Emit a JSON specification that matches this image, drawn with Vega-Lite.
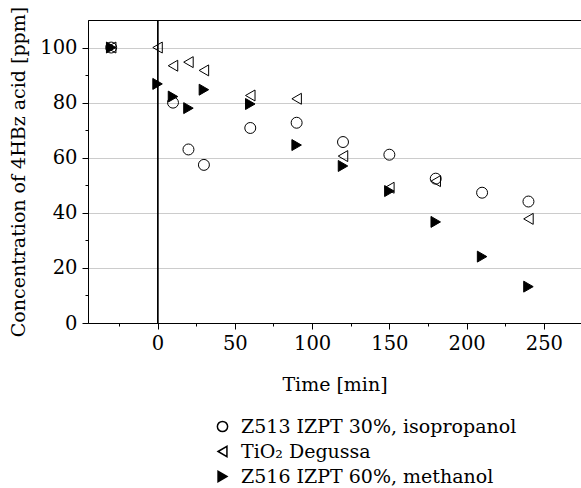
{
  "$schema": "https://vega.github.io/schema/vega-lite/v6.json",
  "width": 493,
  "height": 303,
  "autosize": "none",
  "padding": {"left": 88, "top": 20, "right": 0, "bottom": 165},
  "background": "white",
  "config": {
    "view": {"stroke": "black", "strokeWidth": 1},
    "font": "DejaVu Serif",
    "axis": {
      "labelFont": "DejaVu Serif",
      "labelFontSize": 19.5,
      "labelColor": "black",
      "titleFont": "DejaVu Serif",
      "titleFontSize": 19,
      "titleFontWeight": "normal",
      "titleColor": "black",
      "domainColor": "black",
      "domainWidth": 1,
      "tickColor": "black",
      "gridColor": "#cccccc",
      "gridWidth": 1
    },
    "legend": {
      "labelFont": "DejaVu Serif",
      "labelFontSize": 19,
      "labelColor": "black",
      "labelLimit": 400,
      "padding": 0
    }
  },
  "data": {
    "values": [
      {"time": -30, "conc": 100, "series": "Z513 IZPT 30%, isopropanol"},
      {"time": 10, "conc": 80, "series": "Z513 IZPT 30%, isopropanol"},
      {"time": 20, "conc": 63, "series": "Z513 IZPT 30%, isopropanol"},
      {"time": 30, "conc": 57.4, "series": "Z513 IZPT 30%, isopropanol"},
      {"time": 60, "conc": 70.8, "series": "Z513 IZPT 30%, isopropanol"},
      {"time": 90, "conc": 72.7, "series": "Z513 IZPT 30%, isopropanol"},
      {"time": 120, "conc": 65.7, "series": "Z513 IZPT 30%, isopropanol"},
      {"time": 150, "conc": 61.1, "series": "Z513 IZPT 30%, isopropanol"},
      {"time": 180, "conc": 52.4, "series": "Z513 IZPT 30%, isopropanol"},
      {"time": 210, "conc": 47.3, "series": "Z513 IZPT 30%, isopropanol"},
      {"time": 240, "conc": 44.1, "series": "Z513 IZPT 30%, isopropanol"},
      {"time": -30, "conc": 100, "series": "TiO₂ Degussa"},
      {"time": 0, "conc": 100, "series": "TiO₂ Degussa"},
      {"time": 10, "conc": 93.4, "series": "TiO₂ Degussa"},
      {"time": 20, "conc": 94.7, "series": "TiO₂ Degussa"},
      {"time": 30, "conc": 91.7, "series": "TiO₂ Degussa"},
      {"time": 60, "conc": 82.6, "series": "TiO₂ Degussa"},
      {"time": 90, "conc": 81.4, "series": "TiO₂ Degussa"},
      {"time": 120, "conc": 60.6, "series": "TiO₂ Degussa"},
      {"time": 150, "conc": 49.1, "series": "TiO₂ Degussa"},
      {"time": 180, "conc": 51.5, "series": "TiO₂ Degussa"},
      {"time": 240, "conc": 37.8, "series": "TiO₂ Degussa"},
      {"time": -30, "conc": 100, "series": "Z516 IZPT 60%, methanol"},
      {"time": 0, "conc": 86.8, "series": "Z516 IZPT 60%, methanol"},
      {"time": 10, "conc": 82.2, "series": "Z516 IZPT 60%, methanol"},
      {"time": 20, "conc": 78, "series": "Z516 IZPT 60%, methanol"},
      {"time": 30, "conc": 84.7, "series": "Z516 IZPT 60%, methanol"},
      {"time": 60, "conc": 79.5, "series": "Z516 IZPT 60%, methanol"},
      {"time": 90, "conc": 64.6, "series": "Z516 IZPT 60%, methanol"},
      {"time": 120, "conc": 57, "series": "Z516 IZPT 60%, methanol"},
      {"time": 150, "conc": 47.9, "series": "Z516 IZPT 60%, methanol"},
      {"time": 180, "conc": 36.7, "series": "Z516 IZPT 60%, methanol"},
      {"time": 210, "conc": 24.1, "series": "Z516 IZPT 60%, methanol"},
      {"time": 240, "conc": 13.2, "series": "Z516 IZPT 60%, methanol"}
    ]
  },
  "layer": [
    {
      "mark": {"type": "rule", "color": "black", "strokeWidth": 1},
      "encoding": {"x": {"datum": 0, "type": "quantitative"}}
    },
    {
      "mark": {"type": "point", "filled": true, "stroke": "black", "strokeWidth": 1, "opacity": 1, "size": 120},
      "encoding": {
        "x": {
          "field": "time",
          "type": "quantitative",
          "scale": {"domain": [-45, 274], "nice": false, "zero": false},
          "axis": {
            "title": "Time [min]",
            "values": [-25, 0, 25, 50, 75, 100, 125, 150, 175, 200, 225, 250],
            "labelExpr": "datum.value % 50 === 0 ? datum.label : ''",
            "tickSize": {"condition": {"test": "datum.value % 50 !== 0", "value": 3}, "value": 6},
            "gridOpacity": {"condition": {"test": "datum.value % 50 !== 0", "value": 0}, "value": 1},
            "labelPadding": 5,
            "titlePadding": 23
          }
        },
        "y": {
          "field": "conc",
          "type": "quantitative",
          "scale": {"domain": [0, 110], "nice": false},
          "axis": {
            "title": "Concentration of 4HBz acid [ppm]",
            "values": [0, 10, 20, 30, 40, 50, 60, 70, 80, 90, 100],
            "labelExpr": "datum.value % 20 === 0 ? datum.label : ''",
            "tickSize": {"condition": {"test": "datum.value % 20 !== 0", "value": 3}, "value": 6},
            "gridOpacity": {"condition": {"test": "datum.value % 20 !== 0", "value": 0}, "value": 1},
            "labelPadding": 5,
            "titlePadding": 11
          }
        },
        "shape": {
          "field": "series",
          "type": "nominal",
          "scale": {
            "domain": ["Z513 IZPT 30%, isopropanol", "TiO₂ Degussa", "Z516 IZPT 60%, methanol"],
            "range": ["circle", "triangle-left", "triangle-right"]
          },
          "legend": {
            "title": null,
            "orient": "none",
            "legendX": 125,
            "legendY": 397,
            "rowPadding": 5,
            "symbolSize": 105,
            "labelOffset": 9,
            "encode": {"symbols": {"update": {"stroke": {"value": "black"}, "strokeWidth": {"value": 1}}}}
          }
        },
        "fill": {
          "field": "series",
          "type": "nominal",
          "scale": {
            "domain": ["Z513 IZPT 30%, isopropanol", "TiO₂ Degussa", "Z516 IZPT 60%, methanol"],
            "range": ["transparent", "transparent", "black"]
          },
          "legend": {
            "title": null,
            "orient": "none",
            "legendX": 125,
            "legendY": 397,
            "rowPadding": 5,
            "symbolSize": 105,
            "labelOffset": 9,
            "encode": {"symbols": {"update": {"stroke": {"value": "black"}, "strokeWidth": {"value": 1}}}}
          }
        }
      }
    }
  ]
}
